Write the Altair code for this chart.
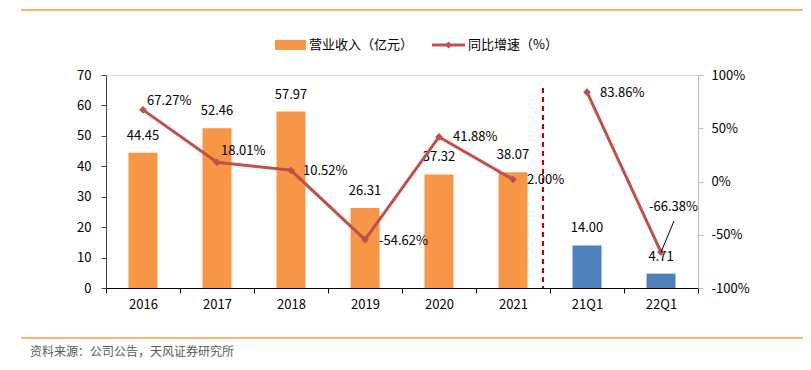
import altair as alt
import pandas as pd

# ---- data ----
categories = ["2016", "2017", "2018", "2019", "2020", "2021", "21Q1", "22Q1"]
revenue = [44.45, 52.46, 57.97, 26.31, 37.32, 38.07, 14.00, 4.71]
growth = [67.27, 18.01, 10.52, -54.62, 41.88, 2.00, 83.86, -66.38]
period_type = ["年度", "年度", "年度", "年度", "年度", "年度", "季度", "季度"]

legend_bar = "营业收入（亿元）"
legend_line = "同比增速（%）"
source_text = "资料来源：公司公告，天风证券研究所"

df = pd.DataFrame({
    "cat": categories,
    "rev": revenue,
    "growth": growth,
    "type": period_type,
    "rlabel": [f"{v:.2f}" for v in revenue],
    "glabel": [f"{v:.2f}%" for v in growth],
})

# ---- layout / style ----
W, H = 592, 213
FONT = "Noto Sans CJK SC"
ORANGE = "#F79646"
BLUE = "#4F81BD"
RED = "#C0504D"
# label offsets (dx, dy) for the growth labels
g_offsets = {
    "2016": (4, -9), "2017": (4, -11), "2018": (12, 1), "2019": (14, 1),
    "2020": (14, 0), "2021": (14, 1), "21Q1": (13, 1), "22Q1": (-12, -45),
}

base = alt.Chart(df)

x_enc = alt.X(
    "cat:N", sort=categories,
    scale=alt.Scale(paddingInner=0, paddingOuter=0),
    axis=alt.Axis(title=None, labelAngle=0, tickBand="extent", domainColor="#000000",
                  tickColor="#000000", tickSize=5, labelPadding=5, labelFont=FONT,
                  labelFontSize=13, labelColor="#000000", grid=False),
)
y_left = alt.Y(
    "rev:Q", scale=alt.Scale(domain=[0, 70], nice=False),
    axis=alt.Axis(title=None, values=list(range(0, 71, 10)), grid=False, domainColor="#404040",
                  tickColor="#404040", tickSize=5, labelPadding=10, labelFont=FONT,
                  labelFontSize=13, labelColor="#000000"),
)
y_right = alt.Y(
    "growth:Q", scale=alt.Scale(domain=[-100, 100], nice=False),
    axis=alt.Axis(title=None, orient="right", values=[-100, -50, 0, 50, 100],
                  labelExpr="datum.value + '%'", grid=False, domainColor="#BFBFBF",
                  tickColor="#BFBFBF", tickSize=5, labelPadding=8, labelFont=FONT,
                  labelFontSize=13, labelColor="#000000"),
)

bars = base.mark_bar(size=29).encode(
    x=x_enc, y=y_left,
    color=alt.Color("type:N", scale=alt.Scale(domain=["年度", "季度"], range=[ORANGE, BLUE]), legend=None),
)
bar_labels = base.mark_text(baseline="middle", dy=-17, font=FONT, fontSize=13, color="#000000").encode(
    x=x_enc, y=y_left, text="rlabel:N"
)
divider = base.mark_rule(color="#C00000", strokeWidth=2, strokeDash=[5, 4], xOffset=-7).encode(
    x=alt.X("cat:N", sort=categories, bandPosition=0),
    y=alt.value(13), y2=alt.value(H),
).transform_filter(alt.datum.cat == "21Q1")

left = alt.layer(bars, bar_labels, divider)

line = base.mark_line(color=RED, strokeWidth=3).encode(
    x=x_enc, y=y_right, detail="type:N"
)
points = base.mark_point(shape="diamond", filled=True, size=60, color=RED, opacity=1).encode(
    x=x_enc, y=y_right
)
leader = base.mark_rule(color="#000000", strokeWidth=1).encode(
    x=x_enc, y=y_right, x2=alt.value(568), y2=alt.value(146)
).transform_filter(alt.datum.cat == "22Q1")

g_label_layers = []
for c in categories:
    dx, dy = g_offsets[c]
    g_label_layers.append(
        base.mark_text(align="left", baseline="middle", dx=dx, dy=dy, font=FONT, fontSize=13,
                       color="#000000")
        .encode(x=x_enc, y=y_right, text="glabel:N")
        .transform_filter(alt.datum.cat == c)
    )

right = alt.layer(line, points, leader, *g_label_layers)

# ---- decorations (legend, frame lines, source) ----
one = alt.Chart(pd.DataFrame({"a": [0]}))
top_rule = one.mark_rule(color="#F59A46", strokeWidth=1.5).encode(
    x=alt.value(-85), x2=alt.value(705), y=alt.value(-65))
bottom_rule = one.mark_rule(color="#F59A46", strokeWidth=1.5).encode(
    x=alt.value(-85), x2=alt.value(705), y=alt.value(263))
leg_rect = one.mark_rect(color=ORANGE).encode(
    x=alt.value(169), x2=alt.value(200), y=alt.value(-35), y2=alt.value(-25))
leg_text1 = one.mark_text(align="left", baseline="middle", font=FONT, fontSize=13, color="#000000").encode(
    x=alt.value(203), y=alt.value(-30), text=alt.value(legend_bar))
leg_line = one.mark_rule(color=RED, strokeWidth=3).encode(
    x=alt.value(326), x2=alt.value(359), y=alt.value(-30))
leg_pt = one.mark_point(shape="diamond", filled=True, size=50, color=RED, opacity=1).encode(
    x=alt.value(342.5), y=alt.value(-30))
leg_text2 = one.mark_text(align="left", baseline="middle", font=FONT, fontSize=13, color="#000000").encode(
    x=alt.value(362), y=alt.value(-30), text=alt.value(legend_line))
src = one.mark_text(align="left", baseline="middle", font=FONT, fontSize=12, color="#595959").encode(
    x=alt.value(-76), y=alt.value(277), text=alt.value(source_text))

chart = alt.layer(
    left, right, top_rule, bottom_rule, leg_rect, leg_text1, leg_line, leg_pt, leg_text2, src
).resolve_scale(y="independent").properties(
    width=W, height=H,
    autosize=alt.AutoSizeParams(type="none"),
    padding={"left": 98, "top": 67, "right": 105, "bottom": 74},
).configure_view(stroke=None).configure(background="white")

chart.save("out.html", embed_options={"renderer": "svg", "actions": False})
